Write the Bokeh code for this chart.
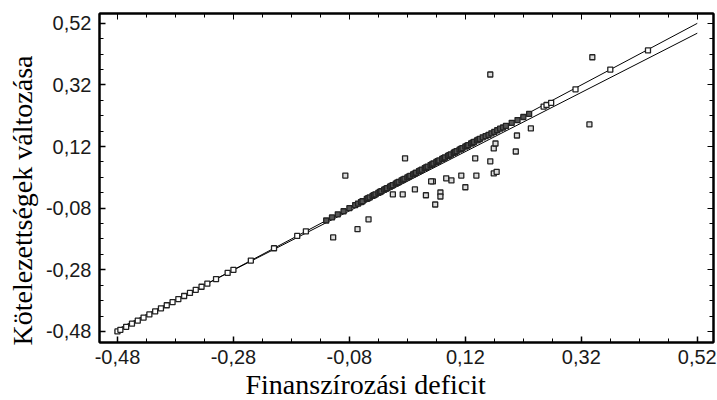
from bokeh.plotting import figure
from bokeh.embed import file_html
from bokeh.resources import INLINE
from bokeh.models import LinearAxis, FixedTicker, CustomJSTickFormatter, Range1d, Title

# ---- data ----
online_x = [-0.48, -0.475, -0.465, -0.455, -0.445, -0.435, -0.425, -0.415, -0.405,
            -0.395, -0.385, -0.375, -0.365, -0.355, -0.345, -0.335, -0.325, -0.31,
            -0.29, -0.28, -0.25, -0.21, -0.17, -0.155, -0.12, -0.11, -0.10, -0.09,
            -0.08, -0.07, -0.065, -0.06, -0.0575, -0.05, -0.0475, -0.045, -0.04,
            -0.0375, -0.035, -0.03, -0.0275, -0.025, -0.02, -0.0175, -0.015, -0.01,
            -0.0075, -0.005, 0.0, 0.0025, 0.005, 0.01, 0.0125, 0.015, 0.02, 0.0225,
            0.025, 0.03, 0.0325, 0.035, 0.04, 0.0425, 0.045, 0.05, 0.0525, 0.055,
            0.06, 0.0625, 0.065, 0.07, 0.0725, 0.075, 0.08, 0.0825, 0.085, 0.09,
            0.0925, 0.095, 0.10, 0.1025, 0.105, 0.11, 0.1125, 0.115, 0.12, 0.1225,
            0.125, 0.13, 0.1325, 0.135, 0.14, 0.1425, 0.145, 0.15, 0.155, 0.16,
            0.165, 0.17, 0.175, 0.18, 0.185, 0.19, 0.20, 0.21, 0.22, 0.23,
            0.255, 0.26, 0.268, 0.31, 0.37, 0.435]
online_y = [-0.48, -0.475, -0.465, -0.455, -0.445, -0.435, -0.425, -0.415, -0.405,
            -0.395, -0.385, -0.375, -0.365, -0.355, -0.345, -0.335, -0.325, -0.31,
            -0.29, -0.28, -0.25, -0.21, -0.17, -0.155, -0.12, -0.11, -0.10, -0.09,
            -0.08, -0.07, -0.065, -0.06, -0.0575, -0.05, -0.0475, -0.045, -0.04,
            -0.0375, -0.035, -0.03, -0.0275, -0.025, -0.02, -0.0175, -0.015, -0.01,
            -0.0075, -0.005, 0.0, 0.0025, 0.005, 0.01, 0.0125, 0.015, 0.02, 0.0225,
            0.025, 0.03, 0.0325, 0.035, 0.04, 0.0425, 0.045, 0.05, 0.0525, 0.055,
            0.06, 0.0625, 0.065, 0.07, 0.0725, 0.075, 0.08, 0.0825, 0.085, 0.09,
            0.0925, 0.095, 0.10, 0.1025, 0.105, 0.11, 0.1125, 0.115, 0.12, 0.1225,
            0.125, 0.13, 0.1325, 0.135, 0.14, 0.1425, 0.145, 0.15, 0.154, 0.158,
            0.163, 0.168, 0.173, 0.178, 0.182, 0.187, 0.197, 0.206, 0.216, 0.226,
            0.25, 0.255, 0.262, 0.306, 0.37, 0.432]

outlier_x = [-0.087, -0.108, -0.066, -0.047, -0.005, 0.012, 0.033, 0.052, 0.068,
             0.077, 0.077, 0.064, 0.087, 0.096, 0.113, 0.12, 0.139, 0.169, 0.174,
             0.016, 0.137, 0.163, 0.169, 0.172, 0.207, 0.209, 0.233, 0.163, 0.339,
             0.334, 0.061]
outlier_y = [0.026, -0.175, -0.148, -0.116, -0.035, -0.035, -0.019, -0.038, -0.068,
             -0.029, -0.042, 0.007, 0.017, 0.010, 0.026, -0.012, 0.026, 0.033, 0.038,
             0.082, 0.082, 0.072, 0.114, 0.130, 0.104, 0.156, 0.179, 0.354, 0.410,
             0.192, 0.007]

ref_x = [-0.485, 0.52]
ref_y = [-0.485, 0.52]
fit_x = [-0.485, 0.52]
fit_y = [-0.478, 0.488]

ticks = [-0.48, -0.28, -0.08, 0.12, 0.32, 0.52]
minor = [-0.53, -0.43, -0.38, -0.33, -0.23, -0.18, -0.13, -0.03, 0.02, 0.07,
         0.17, 0.22, 0.27, 0.37, 0.42, 0.47]

x_label = "Finanszírozási deficit"
y_label = "Kötelezettségek változása"

# ---- figure ----
p = figure(width=717, height=400, output_backend="svg", toolbar_location=None,
           x_range=Range1d(-0.511, 0.548), y_range=Range1d(-0.516, 0.552),
           min_border_left=99, min_border_right=4, min_border_top=13,
           min_border_bottom=58)
p.grid.visible = False
p.background_fill_color = "white"
p.outline_line_color = "black"
p.outline_line_width = 2

fmt = CustomJSTickFormatter(code="return tick.toFixed(2).replace('.', ',');")

for ax in (p.xaxis[0], p.yaxis[0]):
    ax.ticker = FixedTicker(ticks=ticks, minor_ticks=minor)
    ax.formatter = fmt
    ax.major_tick_out = 0
    ax.major_tick_in = 6
    ax.minor_tick_out = 0
    ax.minor_tick_in = 4
    ax.axis_line_width = 2
    ax.major_tick_line_width = 1.5
    ax.major_label_text_font = "Liberation Sans"
    ax.major_label_text_font_size = "20px"
    ax.major_label_text_color = "#1a1a1a"

p.xaxis.major_label_standoff = 7
p.yaxis.major_label_standoff = 8

blank = CustomJSTickFormatter(code="return '';")
for loc in ("above", "right"):
    ax = LinearAxis(ticker=FixedTicker(ticks=ticks, minor_ticks=minor),
                    formatter=blank, major_label_standoff=0,
                    major_tick_out=0, major_tick_in=6,
                    minor_tick_out=0, minor_tick_in=4,
                    axis_line_width=2)
    p.add_layout(ax, loc)

p.add_layout(Title(text=x_label, align="left", offset=146, standoff=0,
                   text_font="Liberation Serif", text_font_size="28px",
                   text_font_style="normal", text_color="black"), "below")
p.add_layout(Title(text=y_label, align="left", offset=-3, standoff=9,
                   text_font="Liberation Serif", text_font_size="28px",
                   text_font_style="normal", text_color="black"), "left")

p.line(ref_x, ref_y, line_color="black", line_width=1)
p.line(fit_x, fit_y, line_color="black", line_width=1)

online_fill = ["white" if x < -0.15 or x > 0.24 else "#555555" for x in online_x]
p.scatter(online_x, online_y, marker="square", size=5, line_color="#222222",
          fill_color=online_fill, line_width=1.3)
p.scatter(outlier_x, outlier_y, marker="square", size=5, line_color="#222222",
          fill_color="#dddddd", line_width=1.3)

open("out.html", "w").write(file_html(p, INLINE))
